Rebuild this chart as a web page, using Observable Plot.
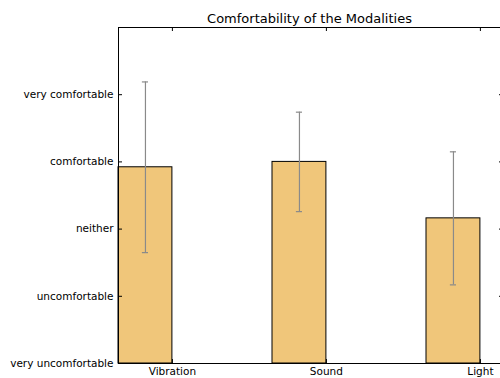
<!DOCTYPE html>
<html>
<head>
<meta charset="utf-8">
<script src="https://cdn.jsdelivr.net/npm/d3@7"></script>
<script src="https://cdn.jsdelivr.net/npm/@observablehq/plot@0.6"></script>
<style>
  body { margin: 0; background: #fff; }
  svg { font-family: "DejaVu Sans", sans-serif; }
</style>
</head>
<body>
<div id="chart"></div>
<script>
const categories = ["Vibration", "Sound", "Light"];
const means = [3.92, 4.0, 3.16];
const errors = [1.27, 0.74, 0.99];
const yLevels = [1, 2, 3, 4, 5];
const yLabels = ["very uncomfortable", "uncomfortable", "neither", "comfortable", "very comfortable"];
const title = "Comfortability of the Modalities";

const barWidth = 0.35;
const data = categories.map((c, i) => ({
  name: c, i, mean: means[i], err: errors[i],
  x1: i, x2: i + barWidth, cx: i + barWidth / 2
}));
const xTicks = data.map(d => d.x2);

const chart = Plot.plot({
  width: 500,
  height: 378,
  marginTop: 27,
  marginBottom: 15,
  marginLeft: 118,
  marginRight: 0,
  style: { fontFamily: "DejaVu Sans, sans-serif", fontSize: "10.5px", background: "#fff", overflow: "visible" },
  x: { type: "linear", domain: [0, 2.5], range: [118, 503] },
  y: { domain: [1, 6] },
  marks: [
    Plot.rectY(data, { x1: "x1", x2: "x2", y1: 1, y2: "mean", fill: "#f0c67a", stroke: "#000", strokeWidth: 1 }),
    Plot.ruleX(data, { x: "cx", y1: d => d.mean - d.err, y2: d => d.mean + d.err, stroke: "#8a8a8a", strokeWidth: 1.2 }),
    Plot.ruleY(data, { y: d => d.mean + d.err, x1: d => d.cx - 0.02, x2: d => d.cx + 0.02, stroke: "#8a8a8a", strokeWidth: 1.2 }),
    Plot.ruleY(data, { y: d => d.mean - d.err, x1: d => d.cx - 0.02, x2: d => d.cx + 0.02, stroke: "#8a8a8a", strokeWidth: 1.2 }),
    // inward ticks
    Plot.ruleY(yLevels, { y: d => d, x1: 0, x2: 4 / 154, stroke: "#000" }),
    Plot.ruleY(yLevels, { y: d => d, x1: 2.5 - 4 / 154, x2: 2.5, stroke: "#000" }),
    Plot.ruleX(xTicks, { x: d => d, y1: 6, y2: 6 - 4 / 67.2, stroke: "#000" }),
    Plot.ruleX(xTicks, { x: d => d, y1: 1, y2: 1 + 4 / 67.2, stroke: "#000" }),
    Plot.frame({ stroke: "#000", strokeWidth: 1 }),
    Plot.axisY(yLevels, { anchor: "left", tickSize: 0, tickPadding: 5, tickFormat: d => yLabels[d - 1], fill: "#000", fontSize: 10.5, label: null }),
    Plot.axisX(xTicks, { anchor: "bottom", tickSize: 0, tickPadding: 4, tickFormat: (d, i) => categories[i], fill: "#000", fontSize: 10.5, label: null }),
    Plot.text([title], { frameAnchor: "top", lineAnchor: "middle", dy: -9, fontSize: 13, fill: "#000", text: d => d })
  ]
});
document.getElementById("chart").appendChild(chart);
</script>
</body>
</html>
